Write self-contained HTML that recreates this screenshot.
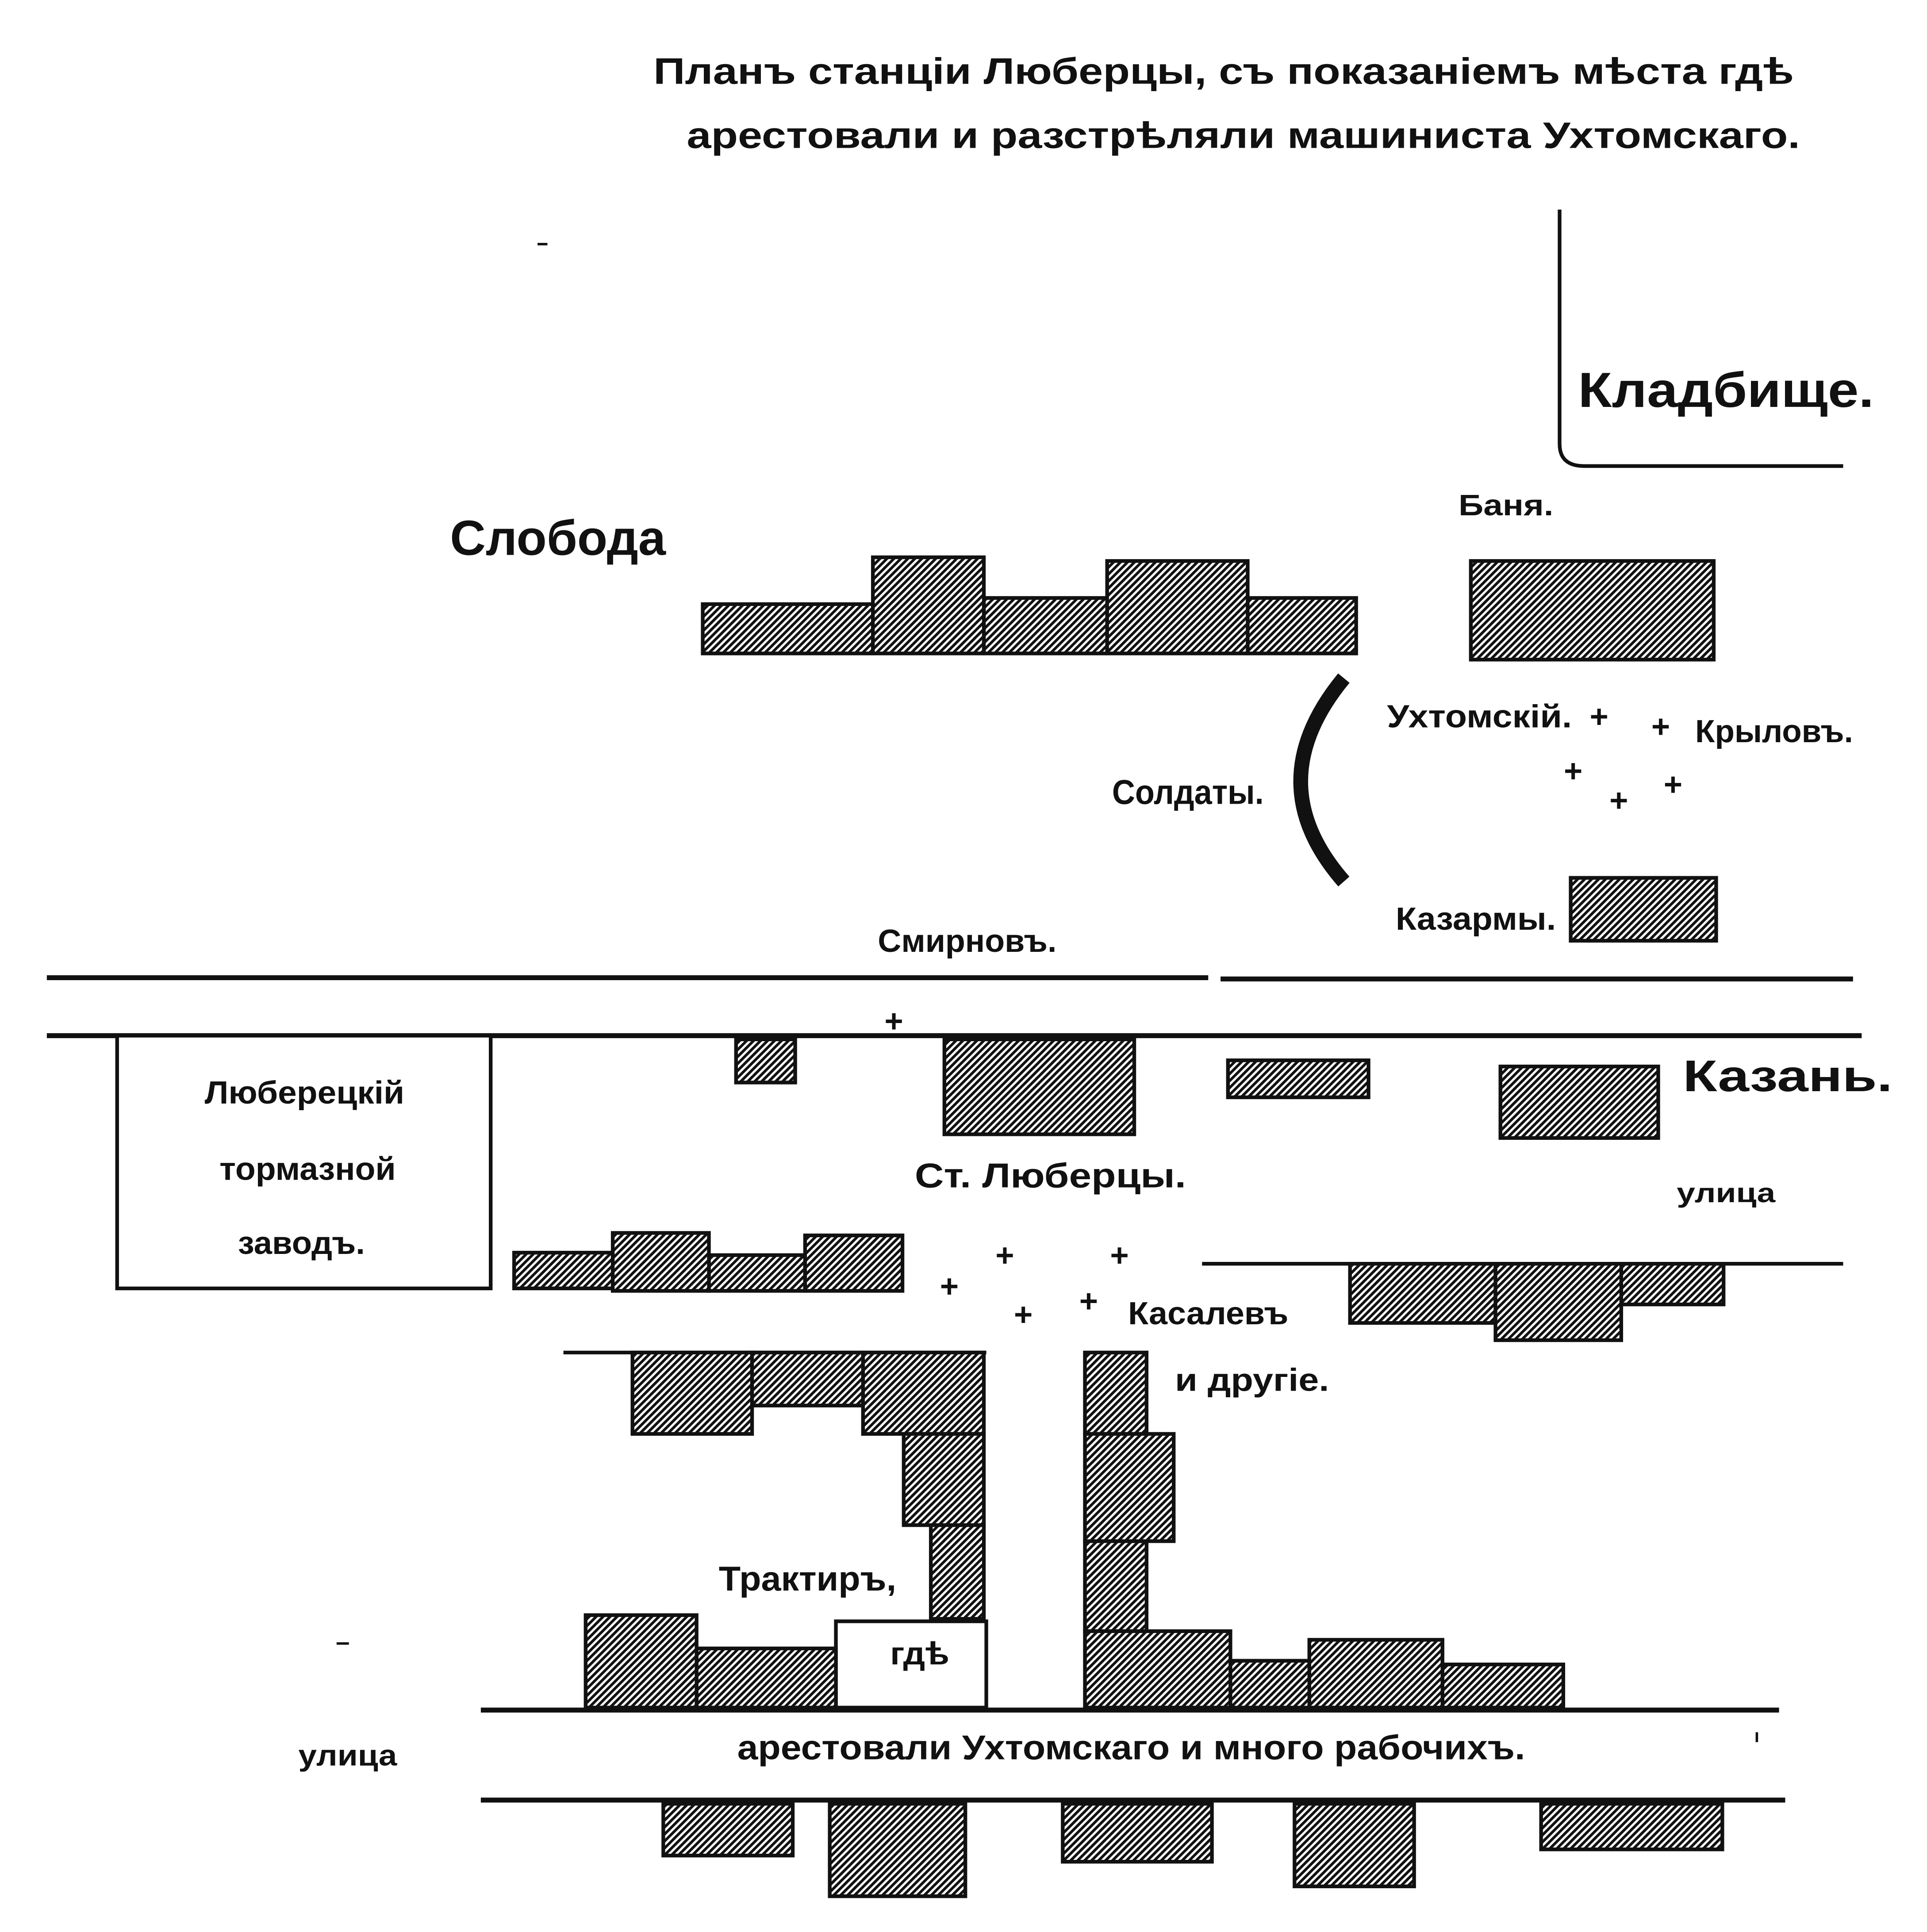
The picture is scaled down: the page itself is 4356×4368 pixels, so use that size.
<!DOCTYPE html>
<html><head><meta charset="utf-8"><style>html,body{margin:0;padding:0;background:#fff}svg{display:block}</style></head>
<body>
<svg width="4356" height="4368" viewBox="0 0 1563 1567" preserveAspectRatio="none" xmlns="http://www.w3.org/2000/svg" font-family="Liberation Sans Narrow, Liberation Sans, sans-serif" font-weight="bold">
<defs>
<pattern id="h" width="4" height="4" patternUnits="userSpaceOnUse" patternTransform="rotate(45)">
<rect width="4" height="4" fill="#fff"/><rect width="2.2" height="4" fill="#111"/>
</pattern>
</defs>
<g fill="none" stroke="#111">
<path d="M1265 170 V360 Q1265 378 1285 378 H1495" stroke-width="3"/>
<path d="M1090 550 Q1020 635 1090 715" stroke-width="12"/>
<path d="M38 793 H980 M990 794 H1503" stroke-width="4"/>
<path d="M38 840 H1510" stroke-width="4"/>
<path d="M975 1025 H1495" stroke-width="3"/>
<path d="M457 1097 H800" stroke-width="3"/>
<path d="M390 1387 H1443" stroke-width="4"/>
<path d="M390 1460 H1448" stroke-width="4"/>
<rect x="95" y="840" width="303" height="205" stroke-width="3" fill="#fff"/>
<rect x="678" y="1315" width="122" height="70" stroke-width="3" fill="#fff"/>
<path d="M436 198 H444 M273 1333 H283 M1425 1405 V1413" stroke-width="2"/>
</g>
<g fill="url(#h)" stroke="#111" stroke-width="3">
<rect x="570" y="490" width="138" height="40"/>
<rect x="798" y="485" width="100" height="45"/>
<rect x="1012" y="485" width="88" height="45"/>
<rect x="708" y="452" width="90" height="78"/>
<rect x="898" y="455" width="114" height="75"/>
<rect x="1193" y="455" width="197" height="80"/>
<rect x="1274" y="712" width="118" height="51"/>
<rect x="597" y="843" width="48" height="35"/>
<rect x="766" y="843" width="154" height="77"/>
<rect x="996" y="860" width="114" height="30"/>
<rect x="1217" y="865" width="128" height="58"/>
<rect x="417" y="1016" width="80" height="29"/>
<rect x="575" y="1018" width="78" height="29"/>
<rect x="497" y="1000" width="78" height="47"/>
<rect x="653" y="1002" width="79" height="45"/>
<rect x="1095" y="1025" width="118" height="48"/>
<rect x="1315" y="1025" width="83" height="33"/>
<rect x="1213" y="1025" width="102" height="62"/>
<rect x="513" y="1097" width="97" height="66"/>
<rect x="610" y="1097" width="90" height="43"/>
<rect x="700" y="1097" width="98" height="66"/>
<rect x="733" y="1163" width="65" height="74"/>
<rect x="755" y="1237" width="43" height="76"/>
<rect x="565" y="1337" width="113" height="48"/>
<rect x="475" y="1310" width="90" height="75"/>
<rect x="880" y="1097" width="50" height="66"/>
<rect x="880" y="1250" width="50" height="73"/>
<rect x="880" y="1163" width="72" height="87"/>
<rect x="880" y="1323" width="118" height="62"/>
<rect x="998" y="1347" width="64" height="38"/>
<rect x="1170" y="1350" width="98" height="35"/>
<rect x="1062" y="1330" width="108" height="55"/>
<rect x="538" y="1463" width="105" height="42"/>
<rect x="673" y="1463" width="110" height="75"/>
<rect x="862" y="1463" width="121" height="47"/>
<rect x="1050" y="1463" width="97" height="67"/>
<rect x="1250" y="1463" width="147" height="37"/>
</g>
<g fill="#111">
<text x="530" y="68" font-size="30" textLength="925" lengthAdjust="spacingAndGlyphs">Планъ станціи Люберцы, съ показаніемъ мѣста гдѣ</text>
<text x="557" y="120" font-size="30" textLength="903" lengthAdjust="spacingAndGlyphs">арестовали и разстрѣляли машиниста Ухтомскаго.</text>
<text x="1280" y="330" font-size="40" font-family="Liberation Sans, sans-serif" textLength="240" lengthAdjust="spacingAndGlyphs">Кладбище.</text>
<text x="1183" y="418" font-size="24" textLength="77" lengthAdjust="spacingAndGlyphs">Баня.</text>
<text x="365" y="450" font-size="40" font-family="Liberation Sans, sans-serif" textLength="175" lengthAdjust="spacingAndGlyphs">Слобода</text>
<text x="902" y="652" font-size="28" textLength="123" lengthAdjust="spacingAndGlyphs">Солдаты.</text>
<text x="1125" y="590" font-size="26" textLength="150" lengthAdjust="spacingAndGlyphs">Ухтомскій.</text>
<text x="1375" y="602" font-size="26" textLength="128" lengthAdjust="spacingAndGlyphs">Крыловъ.</text>
<text x="1132" y="754" font-size="26" textLength="130" lengthAdjust="spacingAndGlyphs">Казармы.</text>
<text x="712" y="772" font-size="26" textLength="145" lengthAdjust="spacingAndGlyphs">Смирновъ.</text>
<text x="166" y="895" font-size="26" textLength="162" lengthAdjust="spacingAndGlyphs">Люберецкій</text>
<text x="178" y="957" font-size="26" textLength="143" lengthAdjust="spacingAndGlyphs">тормазной</text>
<text x="193" y="1017" font-size="26" textLength="103" lengthAdjust="spacingAndGlyphs">заводъ.</text>
<text x="1365" y="885" font-size="36" font-family="Liberation Sans, sans-serif" textLength="170" lengthAdjust="spacingAndGlyphs">Казань.</text>
<text x="742" y="963" font-size="28" textLength="220" lengthAdjust="spacingAndGlyphs">Ст. Люберцы.</text>
<text x="1360" y="975" font-size="22" textLength="80" lengthAdjust="spacingAndGlyphs">улица</text>
<text x="915" y="1074" font-size="26" textLength="130" lengthAdjust="spacingAndGlyphs">Касалевъ</text>
<text x="953" y="1128" font-size="26" textLength="125" lengthAdjust="spacingAndGlyphs">и другіе.</text>
<text x="583" y="1290" font-size="28" textLength="144" lengthAdjust="spacingAndGlyphs">Трактиръ,</text>
<text x="722" y="1350" font-size="26" textLength="48" lengthAdjust="spacingAndGlyphs">гдѣ</text>
<text x="242" y="1432" font-size="24" textLength="80" lengthAdjust="spacingAndGlyphs">улица</text>
<text x="598" y="1427" font-size="28" textLength="639" lengthAdjust="spacingAndGlyphs">арестовали Ухтомскаго и много рабочихъ.</text>
</g>
<g fill="#111" font-size="26" font-family="Liberation Sans, sans-serif" text-anchor="middle">
<text x="1297" y="590">+</text><text x="1347" y="598">+</text>
<text x="1276" y="634">+</text><text x="1313" y="658">+</text><text x="1357" y="645">+</text>
<text x="725" y="837">+</text>
<text x="815" y="1027">+</text><text x="908" y="1027">+</text><text x="770" y="1052">+</text>
<text x="830" y="1075">+</text><text x="883" y="1064">+</text>
</g>
</svg>
</body></html>
